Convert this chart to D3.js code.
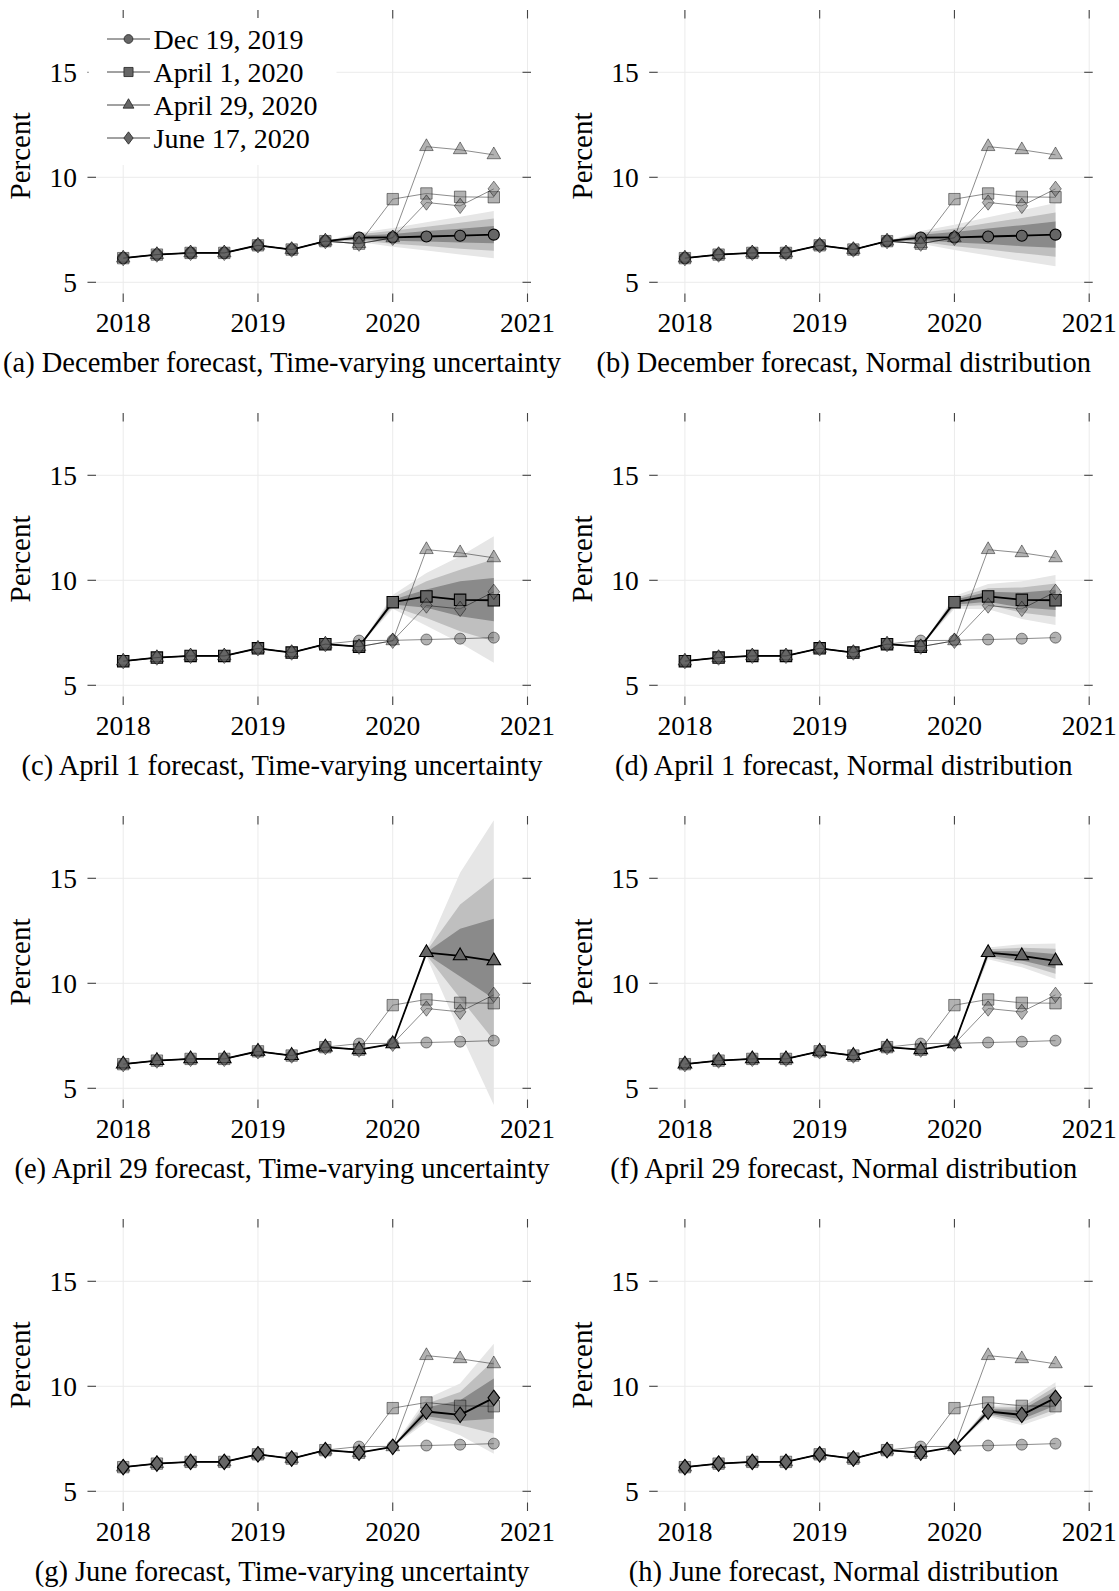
<!DOCTYPE html>
<html>
<head>
<meta charset="utf-8">
<script src="https://cdn.jsdelivr.net/npm/d3@7"></script>
<style>
  body { margin: 0; background: #fff; }
  svg text { font-family: "Liberation Serif", "DejaVu Serif", serif; fill: #000; }
</style>
</head>
<body>
<div id="chart"></div>
<script>

// quarters shown on the x axis
var quarters = [2018, 2018.25, 2018.5, 2018.75, 2019, 2019.25, 2019.5, 2019.75, 2020, 2020.25, 2020.5, 2020.75];

// the four forecast vintages (actuals + forecast path), percent
var dec19 = [6.15, 6.32, 6.40, 6.40, 6.76, 6.56, 6.96, 7.13, 7.14, 7.18, 7.22, 7.27];
var apr1  = [6.15, 6.32, 6.40, 6.40, 6.76, 6.56, 6.96, 6.84, 8.96, 9.23, 9.07, 9.05];
var apr29 = [6.15, 6.32, 6.40, 6.40, 6.76, 6.56, 6.96, 6.84, 7.12, 11.46, 11.31, 11.07];
var jun17 = [6.15, 6.32, 6.40, 6.40, 6.76, 6.56, 6.96, 6.84, 7.12, 8.80, 8.64, 9.45];

var seriesNames = ["Dec 19, 2019", "April 1, 2020", "April 29, 2020", "June 17, 2020"];
var seriesMarks = ["circle", "square", "triangle", "diamond"];

var xTicks = [2018, 2019, 2020, 2021];
var yTicks = [5, 10, 15];

var captions = [
  "(a) December forecast, Time-varying uncertainty",
  "(b) December forecast, Normal distribution",
  "(c) April 1 forecast, Time-varying uncertainty",
  "(d) April 1 forecast, Normal distribution",
  "(e) April 29 forecast, Time-varying uncertainty",
  "(f) April 29 forecast, Normal distribution",
  "(g) June forecast, Time-varying uncertainty",
  "(h) June forecast, Normal distribution"
];

// fan bands [lo, hi] per quarter from the fan start: outer, middle, inner
var fanA = [
  [[6.96,6.96],[6.92,7.36],[6.69,7.59],[6.52,7.86],[6.32,8.12],[6.15,8.39]],
  [[6.96,6.96],[6.99,7.29],[6.83,7.45],[6.73,7.65],[6.60,7.84],[6.50,8.04]],
  [[6.96,6.96],[7.06,7.22],[6.98,7.30],[6.94,7.44],[6.89,7.55],[6.86,7.68]]
];
var fanB = [
  [[6.96,6.96],[6.84,7.44],[6.54,7.74],[6.28,8.10],[6.01,8.43],[5.76,8.78]],
  [[6.96,6.96],[6.93,7.35],[6.72,7.56],[6.56,7.82],[6.38,8.06],[6.22,8.32]],
  [[6.96,6.96],[7.02,7.26],[6.89,7.39],[6.82,7.56],[6.72,7.72],[6.65,7.89]]
];
var fanC = [
  [[6.84,6.84],[8.65,9.30],[7.84,10.35],[7.02,11.14],[6.07,12.10]],
  [[6.84,6.84],[8.75,9.18],[8.21,9.95],[7.57,10.50],[7.10,11.00]],
  [[6.84,6.84],[8.85,9.07],[8.69,9.56],[8.29,9.95],[8.05,10.11]]
];
var fanD = [
  [[6.84,6.84],[8.65,9.25],[8.62,9.82],[8.16,9.96],[7.87,10.25]],
  [[6.84,6.84],[8.75,9.15],[8.82,9.62],[8.46,9.66],[8.27,9.85]],
  [[6.84,6.84],[8.83,9.07],[8.98,9.46],[8.70,9.42],[8.58,9.55]]
];
var fanE = [
  [[7.12,7.12],[11.28,11.58],[7.66,15.27],[4.20,17.76]],
  [[7.12,7.12],[11.33,11.53],[9.29,13.75],[7.29,15.00]],
  [[7.12,7.12],[11.38,11.48],[10.32,12.60],[9.27,13.07]]
];
var fanF = [
  [[7.12,7.12],[11.15,11.71],[10.76,11.86],[10.20,11.90]],
  [[7.12,7.12],[11.24,11.62],[10.93,11.69],[10.45,11.65]],
  [[7.12,7.12],[11.32,11.54],[11.09,11.53],[10.70,11.40]]
];
var fanG = [
  [[7.12,7.12],[8.30,9.41],[7.67,10.13],[6.79,12.03]],
  [[7.12,7.12],[8.46,9.17],[8.14,9.73],[7.75,11.24]],
  [[7.12,7.12],[8.57,8.99],[8.35,9.33],[8.46,10.37]]
];
var fanH = [
  [[7.12,7.12],[8.56,9.06],[8.15,9.15],[8.69,10.19]],
  [[7.12,7.12],[8.63,8.99],[8.30,9.00],[8.89,9.99]],
  [[7.12,7.12],[8.70,8.92],[8.43,8.87],[9.09,9.79]]
];

var series = [dec19, apr1, apr29, jun17];
var fans = [fanA, fanB, fanC, fanD, fanE, fanF, fanG, fanH];
var fanStart = [6, 6, 7, 7, 8, 8, 8, 8];   // index of quarter where fan opens
var activeSeries = [0, 0, 1, 1, 2, 2, 3, 3];
var fanColors = ["#e6e6e6", "#bfbfbf", "#8a8a8a"];

var W = 1119, H = 1591;
var colX = [0, 561.7];
var rowY = [0, 403, 806, 1209];

var svg = d3.select("#chart").append("svg")
    .attr("width", W)
    .attr("height", H);

// frame of one panel (local coords)
var fr = {left: 87.5, right: 531, top: 10, bottom: 302};

var x = d3.scaleLinear().domain([2018, 2021]).range([123.2, 527.5]);
var y = d3.scaleLinear().domain([5, 15]).range([282.3, 72.3]);

svg.append("defs").append("clipPath").attr("id", "frameclip")
  .append("rect")
  .attr("x", fr.left).attr("y", fr.top)
  .attr("width", fr.right - fr.left).attr("height", fr.bottom - fr.top);

function markPath(type, r) {
  if (type == "circle") {
    return "M" + r + ",0A" + r + "," + r + " 0 1,1 " + (-r) + ",0A" + r + "," + r + " 0 1,1 " + r + ",0Z";
  } else if (type == "square") {
    return "M" + (-r) + "," + (-r) + "H" + r + "V" + r + "H" + (-r) + "Z";
  } else if (type == "triangle") {
    var t = r * 1.33;
    return "M0," + (-t) + "L" + (0.866 * t) + "," + (0.5 * t) + "L" + (-0.866 * t) + "," + (0.5 * t) + "Z";
  } else {
    var d = r * 1.33;
    return "M0," + (-d) + "L" + (0.75 * d) + ",0L0," + d + "L" + (-0.75 * d) + ",0Z";
  }
}
var markR = {circle: 5.5, square: 5.7, triangle: 5.9, diamond: 5.8};

var line = d3.line()
  .x(function(d, i) { return x(quarters[i]); })
  .y(function(d) { return y(d); });

function drawPanel(p) {
  var col = p % 2, row = Math.floor(p / 2);
  var g = svg.append("g").attr("transform", "translate(" + colX[col] + "," + rowY[row] + ")");

  // grid
  g.selectAll(".vgrid").data(xTicks).enter().append("line")
    .attr("x1", function(d) { return x(d); }).attr("x2", function(d) { return x(d); })
    .attr("y1", fr.top).attr("y2", fr.bottom)
    .attr("stroke", "#ebebeb").attr("stroke-width", 1);
  g.selectAll(".hgrid").data(yTicks).enter().append("line")
    .attr("y1", function(d) { return y(d); }).attr("y2", function(d) { return y(d); })
    .attr("x1", fr.left).attr("x2", fr.right)
    .attr("stroke", "#ebebeb").attr("stroke-width", 1);

  // fan
  var fan = fans[p], s0 = fanStart[p];
  var plot = g.append("g").attr("clip-path", "url(#frameclip)");
  fan.forEach(function(band, b) {
    var area = d3.area()
      .x(function(d, i) { return x(quarters[s0 + i]); })
      .y0(function(d) { return y(d[0]); })
      .y1(function(d) { return y(d[1]); });
    plot.append("path").attr("d", area(band)).attr("fill", fanColors[b]).attr("stroke", "none");
  });

  // series, in vintage order
  series.forEach(function(vals, k) {
    var active = (k == activeSeries[p]);
    var op = active ? 1 : 0.5;
    plot.append("path").attr("d", line(vals))
      .attr("fill", "none")
      .attr("stroke", "#000")
      .attr("stroke-opacity", op)
      .attr("stroke-width", active ? 1.8 : 0.9)
      .attr("stroke-linejoin", "round");
    plot.selectAll(".m" + k).data(vals).enter().append("path")
      .attr("transform", function(d, i) { return "translate(" + x(quarters[i]) + "," + y(d) + ")"; })
      .attr("d", markPath(seriesMarks[k], markR[seriesMarks[k]]))
      .attr("fill", "#666")
      .attr("fill-opacity", op)
      .attr("stroke", "#000")
      .attr("stroke-opacity", op)
      .attr("stroke-width", active ? 1.1 : 0.9);
  });

  // ticks (inside, on all four sides)
  var tl = 8.5;
  xTicks.forEach(function(t) {
    g.append("line").attr("x1", x(t)).attr("x2", x(t)).attr("y1", fr.top).attr("y2", fr.top + tl)
      .attr("stroke", "#444").attr("stroke-width", 1.1);
    g.append("line").attr("x1", x(t)).attr("x2", x(t)).attr("y1", fr.bottom - tl).attr("y2", fr.bottom)
      .attr("stroke", "#444").attr("stroke-width", 1.1);
  });
  yTicks.forEach(function(t) {
    g.append("line").attr("y1", y(t)).attr("y2", y(t)).attr("x1", fr.left).attr("x2", fr.left + tl)
      .attr("stroke", "#444").attr("stroke-width", 1.1);
    g.append("line").attr("y1", y(t)).attr("y2", y(t)).attr("x1", fr.right - tl).attr("x2", fr.right)
      .attr("stroke", "#444").attr("stroke-width", 1.1);
  });

  // tick labels
  g.selectAll(".xl").data(xTicks).enter().append("text")
    .attr("x", function(d) { return x(d); }).attr("y", 332)
    .attr("text-anchor", "middle").attr("font-size", 27.5)
    .text(function(d) { return d; });
  g.selectAll(".yl").data(yTicks).enter().append("text")
    .attr("x", 77).attr("y", function(d) { return y(d) + 9.5; })
    .attr("text-anchor", "end").attr("font-size", 27.5)
    .text(function(d) { return d; });

  g.append("text")
    .attr("transform", "translate(30," + ((fr.top + fr.bottom) / 2) + ") rotate(-90)")
    .attr("text-anchor", "middle").attr("font-size", 29)
    .text("Percent");

  g.append("text")
    .attr("x", 282).attr("y", 372)
    .attr("text-anchor", "middle").attr("font-size", 28.5)
    .text(captions[p]);

  // legend only in the first panel
  if (p == 0) {
    var lg = g.append("g");
    lg.append("rect").attr("x", fr.left + 1).attr("y", fr.top + 8)
      .attr("width", 248).attr("height", 147).attr("fill", "#fff");
    seriesNames.forEach(function(name, k) {
      var ly = 39 + k * 33;
      lg.append("line").attr("x1", 107).attr("x2", 150).attr("y1", ly).attr("y2", ly)
        .attr("stroke", "#444").attr("stroke-width", 1);
      lg.append("path").attr("transform", "translate(128.5," + ly + ")")
        .attr("d", markPath(seriesMarks[k], markR[seriesMarks[k]] * 0.8))
        .attr("fill", "#666").attr("stroke", "#222").attr("stroke-width", 0.8);
      lg.append("text").attr("x", 153.5).attr("y", ly + 9.5)
        .attr("font-size", 28).text(name);
    });
  }
}

for (var p = 0; p < 8; p++) drawPanel(p);

</script>
</body>
</html>
